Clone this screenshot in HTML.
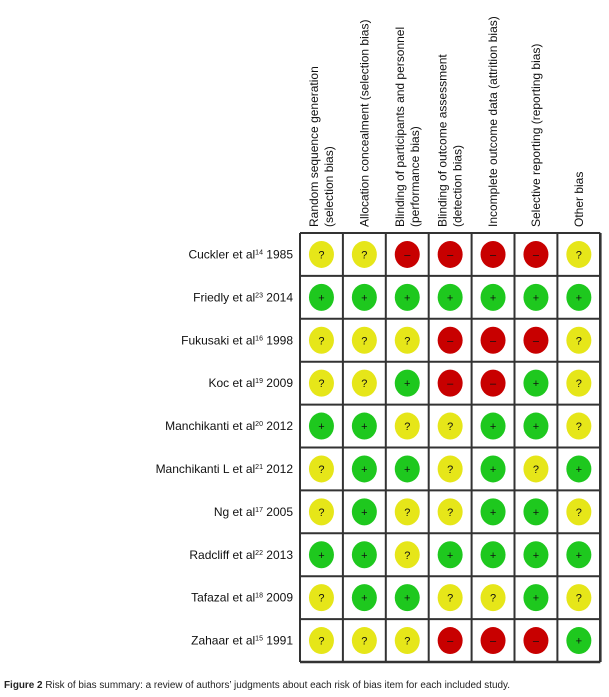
<!DOCTYPE html>
<html><head><meta charset="utf-8"><style>
html,body{margin:0;padding:0;background:#fff;width:609px;height:697px;overflow:hidden}
svg{display:block;font-family:"Liberation Sans",Arial,sans-serif}
</style></head><body>
<svg id="chart" width="609" height="697" viewBox="0 0 609 697" xmlns="http://www.w3.org/2000/svg">
<g id="headers"></g>
<g id="labels"></g>
<g id="grid"></g>
<g id="marks"></g>
<text x="4" y="688" font-size="10" fill="#222" textLength="506" lengthAdjust="spacingAndGlyphs" font-family="'Liberation Sans',sans-serif"><tspan font-weight="bold">Figure 2</tspan> Risk of bias summary: a review of authors’ judgments about each risk of bias item for each included study.</text>
</svg>
<script>
const domains = [
  ["Random sequence generation","(selection bias)"],
  ["Allocation concealment (selection bias)"],
  ["Blinding of participants and personnel","(performance bias)"],
  ["Blinding of outcome assessment","(detection bias)"],
  ["Incomplete outcome data (attrition bias)"],
  ["Selective reporting (reporting bias)"],
  ["Other bias"]
];
const studies = [
  ["Cuckler et al","14"," 1985"],
  ["Friedly et al","23"," 2014"],
  ["Fukusaki et al","16"," 1998"],
  ["Koc et al","19"," 2009"],
  ["Manchikanti et al","20"," 2012"],
  ["Manchikanti L et al","21"," 2012"],
  ["Ng et al","17"," 2005"],
  ["Radcliff  et al","22"," 2013"],
  ["Tafazal et al","18"," 2009"],
  ["Zahaar et al","15"," 1991"]
];
const judgements = [
  ["?","?","-","-","-","-","?"],
  ["+","+","+","+","+","+","+"],
  ["?","?","?","-","-","-","?"],
  ["?","?","+","-","-","+","?"],
  ["+","+","?","?","+","+","?"],
  ["?","+","+","?","+","?","+"],
  ["?","+","?","?","+","+","?"],
  ["+","+","?","+","+","+","+"],
  ["?","+","+","?","?","+","?"],
  ["?","?","?","-","-","-","+"]
];
const NS="http://www.w3.org/2000/svg";
const X0=300, Y0=233, CW=42.9, RH=42.9;
const xCol=i=>X0+CW*i;
const yRow=j=>Y0+RH*j;
const colors={"?":"#e6e619","+":"#1ec81e","-":"#c80000"};
const glyph={"?":"?","+":"+","-":"–"};
function el(t,a,p){const e=document.createElementNS(NS,t);for(const k in a)e.setAttribute(k,a[k]);p.appendChild(e);return e;}
const H=document.getElementById('headers'),L=document.getElementById('labels'),G=document.getElementById('grid'),M=document.getElementById('marks');
domains.forEach((d,i)=>{
  const cx=xCol(i)+CW/2;
  const n=d.length;
  d.forEach((line,k)=>{
    const x=cx-(n-1)*7.5+k*15+4;
    const t=el('text',{transform:`translate(${x},227) rotate(-90)`,'font-size':12,fill:'#111'},H);
    
    
    t.textContent=line;
  });
});
studies.forEach((s,j)=>{
  const t=el('text',{x:293,y:yRow(j)+RH/2+4,'font-size':12,fill:'#111','text-anchor':'end'},L);
  
  
  const a=el('tspan',{},t);a.textContent=s[0];
  const b=el('tspan',{'font-size':7,dy:-4},t);b.textContent=s[1];
  const c=el('tspan',{dy:4},t);c.textContent=s[2];
});
const W=CW*domains.length,HH=RH*studies.length;
for(let i=0;i<=domains.length;i++){const l=el('line',{x1:xCol(i),x2:xCol(i),y1:Y0,y2:Y0+HH,stroke:'#333','stroke-width':(i===domains.length?2.6:2)},G);}
for(let j=0;j<=studies.length;j++){const l=el('line',{x1:X0,x2:X0+W,y1:yRow(j),y2:yRow(j),stroke:'#333','stroke-width':(j===studies.length?2.6:2)},G);}
judgements.forEach((row,j)=>row.forEach((v,i)=>{
  const cx=xCol(i)+CW/2, cy=yRow(j)+RH/2;
  const e=el('ellipse',{cx:cx,cy:cy,rx:12.5,ry:13.5,fill:colors[v]},M);
  
  
  const t=el('text',{x:cx,y:cy+4,'font-size':11,'text-anchor':'middle',fill:'#111'},M);
  
  
  t.textContent=glyph[v];
}));
</script>
</body></html>
